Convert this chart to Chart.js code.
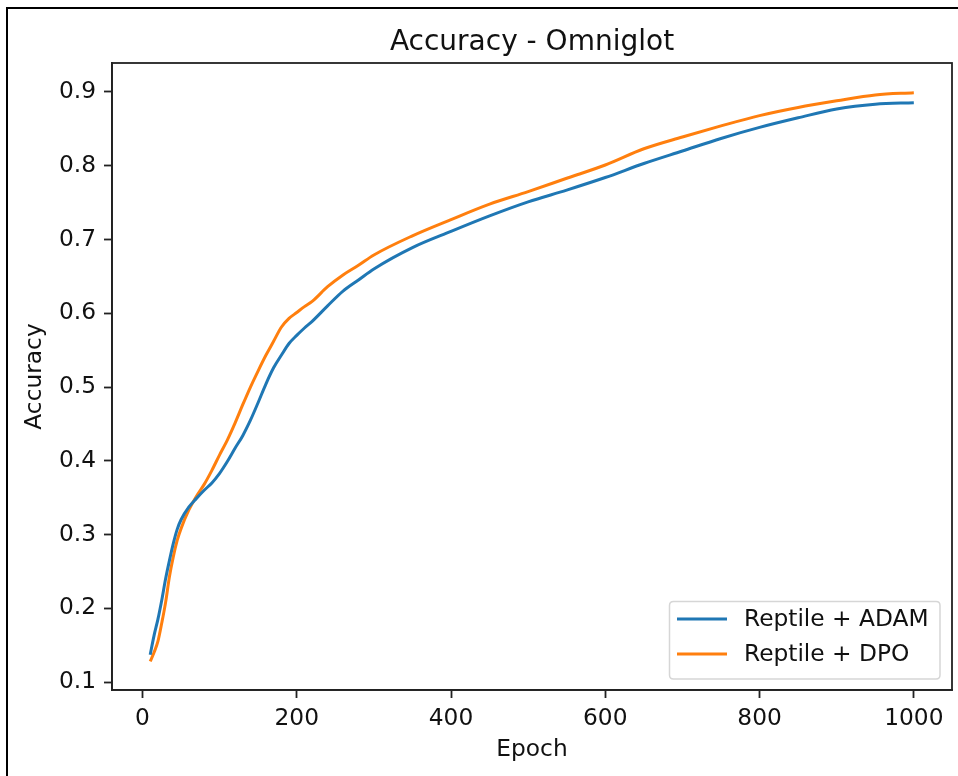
<!DOCTYPE html>
<html>
<head>
<meta charset="utf-8">
<script src="https://cdn.jsdelivr.net/npm/chart.js@4.4.0/dist/chart.umd.min.js"></script>
<style>
  html, body { margin: 0; padding: 0; background: #fff; }
  #wrap { position: relative; width: 958px; height: 776px; }
  canvas { display: block; }
</style>
</head>
<body>
<div id="wrap"><canvas id="c" width="958" height="776"></canvas></div>
<script>
// ---- data ----
const epochs = [10, 15, 20, 25, 30, 35, 40, 45, 50, 60, 70, 80, 90, 100, 110, 120, 130, 140, 150, 160, 170, 180, 190, 200, 210, 220, 240, 260, 280, 300, 350, 400, 450, 500, 550, 600, 650, 700, 750, 800, 850, 900, 950, 1000];
const adamAcc = [0.137, 0.163, 0.185, 0.211, 0.240, 0.265, 0.288, 0.307, 0.320, 0.337, 0.349, 0.360, 0.370, 0.383, 0.399, 0.417, 0.434, 0.455, 0.479, 0.504, 0.526, 0.543, 0.559, 0.570, 0.580, 0.589, 0.610, 0.630, 0.645, 0.660, 0.689, 0.711, 0.732, 0.751, 0.767, 0.784, 0.803, 0.820, 0.837, 0.852, 0.865, 0.877, 0.8835, 0.8855];
const dpoAcc  = [0.128, 0.140, 0.155, 0.180, 0.208, 0.243, 0.270, 0.292, 0.308, 0.333, 0.352, 0.368, 0.387, 0.408, 0.428, 0.451, 0.476, 0.500, 0.522, 0.543, 0.562, 0.581, 0.593, 0.601, 0.609, 0.616, 0.636, 0.652, 0.665, 0.679, 0.705, 0.727, 0.748, 0.765, 0.783, 0.801, 0.823, 0.839, 0.854, 0.868, 0.879, 0.888, 0.896, 0.899];
const seriesLabels = ['Reptile + ADAM', 'Reptile + DPO'];
const xTicks = [0, 200, 400, 600, 800, 1000];
const yTicks = [0.1, 0.2, 0.3, 0.4, 0.5, 0.6, 0.7, 0.8, 0.9];
const chartTitle = 'Accuracy - Omniglot';
const xLabel = 'Epoch';
const yLabel = 'Accuracy';

const FONT = "'DejaVu Sans', 'Liberation Sans', sans-serif";
const TXT = '#111';
const AX = '#222';

function pts(xs, ys) { return xs.map((x, i) => ({ x: x, y: ys[i] })); }

const framePlugin = {
  id: 'frame',
  beforeDraw(chart) {
    const ctx = chart.ctx;
    ctx.save();
    ctx.fillStyle = '#fff';
    ctx.fillRect(0, 0, chart.width, chart.height);
    ctx.strokeStyle = '#000';
    ctx.lineWidth = 2;
    ctx.beginPath();
    ctx.moveTo(7, 780); ctx.lineTo(7, 8); ctx.lineTo(960, 8);
    ctx.stroke();
    ctx.restore();
  },
  afterDraw(chart) {
    const ctx = chart.ctx;
    const a = chart.chartArea;
    ctx.save();
    ctx.strokeStyle = AX;
    ctx.lineWidth = 1.8;
    ctx.strokeRect(a.left, a.top, a.right - a.left, a.bottom - a.top);
    // title centred over the axes
    ctx.fillStyle = TXT;
    ctx.font = '28px ' + FONT;
    ctx.textAlign = 'center';
    ctx.textBaseline = 'alphabetic';
    ctx.fillText(chartTitle, (a.left + a.right) / 2, 50);
    // legend box (lower right, inside axes)
    const bx = 669.5, by = 601.5, bw = 270.5, bh = 77.5, r = 4;
    ctx.beginPath();
    ctx.moveTo(bx + r, by);
    ctx.lineTo(bx + bw - r, by); ctx.quadraticCurveTo(bx + bw, by, bx + bw, by + r);
    ctx.lineTo(bx + bw, by + bh - r); ctx.quadraticCurveTo(bx + bw, by + bh, bx + bw - r, by + bh);
    ctx.lineTo(bx + r, by + bh); ctx.quadraticCurveTo(bx, by + bh, bx, by + bh - r);
    ctx.lineTo(bx, by + r); ctx.quadraticCurveTo(bx, by, bx + r, by);
    ctx.closePath();
    ctx.fillStyle = 'rgba(255,255,255,0.8)';
    ctx.fill();
    ctx.strokeStyle = '#d6d6d6';
    ctx.lineWidth = 1.5;
    ctx.stroke();
    const rows = [619, 654];
    chart.data.datasets.forEach((ds, i) => {
      ctx.strokeStyle = ds.borderColor;
      ctx.lineWidth = 3;
      ctx.beginPath();
      ctx.moveTo(677, rows[i]); ctx.lineTo(727, rows[i]);
      ctx.stroke();
      ctx.fillStyle = TXT;
      ctx.font = '23.3px ' + FONT;
      ctx.textBaseline = 'middle';
      ctx.textAlign = 'left';
      ctx.fillText(ds.label, 744, rows[i] + 1);
    });
    ctx.restore();
  }
};

new Chart(document.getElementById('c'), {
  type: 'line',
  data: {
    datasets: [
      { label: seriesLabels[0], data: pts(epochs, adamAcc), borderColor: '#1f77b4', backgroundColor: '#1f77b4',
        borderWidth: 3, pointRadius: 0, fill: false, cubicInterpolationMode: 'monotone' },
      { label: seriesLabels[1], data: pts(epochs, dpoAcc), borderColor: '#ff7f0e', backgroundColor: '#ff7f0e',
        borderWidth: 3, pointRadius: 0, fill: false, cubicInterpolationMode: 'monotone' }
    ]
  },
  options: {
    responsive: false,
    animation: false,
    events: [],
    layout: { padding: { left: 0, right: 6, top: 63, bottom: 0 } },
    plugins: {
      legend: { display: false },
      tooltip: { enabled: false },
      title: { display: false }
    },
    scales: {
      x: {
        type: 'linear', min: -39.5, max: 1049.5,
        afterBuildTicks(s) { s.ticks = xTicks.map(v => ({ value: v })); },
        afterFit(s) { s.height = 86; },
        grid: { display: true, drawOnChartArea: false, drawTicks: true, tickLength: 8, tickWidth: 1.8, tickColor: AX },
        border: { display: true, color: AX, width: 1.8 },
        ticks: { color: TXT, font: { family: FONT, size: 23.3 }, padding: 7, maxRotation: 0, autoSkip: false,
          callback: v => String(v) },
        title: { display: true, text: xLabel, color: TXT, font: { family: FONT, size: 23.3, lineHeight: 1.2 },
          padding: { top: 0, bottom: 12 } }
      },
      y: {
        type: 'linear', min: 0.0892, max: 0.9393,
        afterBuildTicks(s) { s.ticks = yTicks.map(v => ({ value: v })); },
        afterFit(s) { s.width = 112; },
        grid: { display: true, drawOnChartArea: false, drawTicks: true, tickLength: 8, tickWidth: 1.8, tickColor: AX },
        border: { display: true, color: AX, width: 1.8 },
        ticks: { color: TXT, font: { family: FONT, size: 23.3 }, padding: 8, autoSkip: false,
          callback: v => Number(v).toFixed(1) },
        title: { display: true, text: yLabel, color: TXT, font: { family: FONT, size: 23.3, lineHeight: 1.2 },
          padding: { top: 20.5, bottom: 0 } }
      }
    }
  },
  plugins: [framePlugin]
});
</script>
</body>
</html>
